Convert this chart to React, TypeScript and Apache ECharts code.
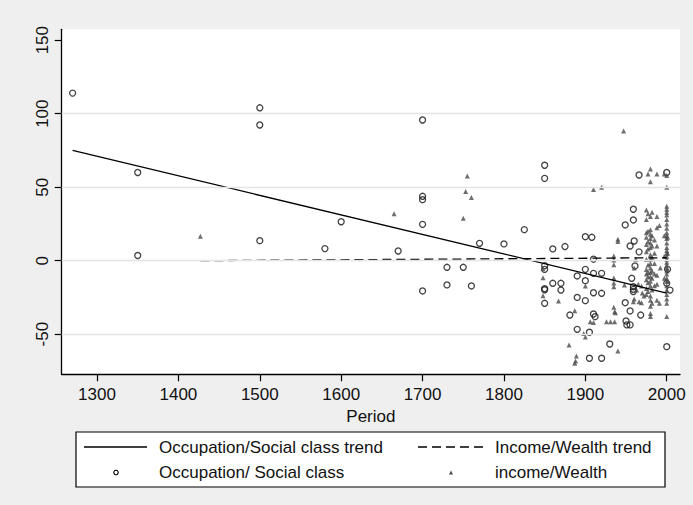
import React, { useEffect, useRef } from "react";
import * as echarts from "echarts";

// ---- data ----
const occupationPoints: [number, number][] = [
  [1270, 114], [1350, 60], [1350, 3.5], [1500, 104], [1500, 92.3], [1500, 13.6],
  [1580, 8.2], [1600, 26.5], [1670, 6.6], [1700, 95.7], [1700, 43.8], [1700, 41.5],
  [1700, 24.7], [1700, -20.6], [1730, -4.5], [1730, -16.5], [1750, -4.5], [1760, -17.2],
  [1770, 11.8], [1800, 11.4], [1825, 21.1], [1850, 64.9], [1850, 56], [1850, -3.4],
  [1850, -5.9], [1850, -19], [1850, -19.8], [1850, -29], [1860, 8], [1860, -15.4],
  [1870, -15.4], [1870, -20], [1875, 9.6], [1881, -37], [1890, -10.4], [1890, -25],
  [1890, -46.7], [1900, 16.3], [1900, -5.9], [1900, -13.6], [1900, -27.2], [1905, -48.7],
  [1905, -66.4], [1908, 15.9], [1910, 1], [1910, -8.6], [1910, -21.8], [1910, -36.3],
  [1912, -38.1], [1920, -8.6], [1920, -22.2], [1920, -66.4], [1930, -56.7], [1949, 24.3],
  [1949, -28.6], [1950, -41], [1951, -43.7], [1955, -43.7], [1955, 10], [1955, -34.2],
  [1957, -12], [1959, 35], [1959, 27.7], [1960, 13.4], [1961, -3.6], [1959, -17.7],
  [1959, -19.5], [1959, -21], [1966, 58.3], [1966, 6], [1968, -37], [2000, 60],
  [2001, -5.9], [2000, -15.4], [2004, -20], [2000, -58.5],
];

const incomePoints: [number, number][] = [
  [1427, 16.6], [1665, 32], [1750, 28.8], [1753, 47], [1755, 57.6], [1760, 43],
  [1848, -5.5], [1848, -11.6], [1848, -23.8], [1867, -27.4], [1880, -57.3], [1887, -34],
  [1889, -64.8], [1888, -68.2], [1887, -69.8], [1898, -49.6], [1900, -17.2], [1900, -52],
  [1906, -41.6], [1910, -42], [1910, 48.4], [1920, 50],
  [1926, -41.5], [1931, -41.5], [1936, -41.5], [1935, 3.2], [1935, 0.5], [1935, -2.7],
  [1935, -11.8], [1935, -15.2], [1935, -17.7], [1935, -31.7], [1936, -34.7], [1937, -35.4],
  [1940, 14.6], [1940, 13], [1940, -61.4], [1947, 88.2], [1948, -16.5], [1959, -27.9],
  [1969, -17.2], [1969, -28.6], [1960, -5], [1960, -26], [1962, 1], [1965, -16],
  [1966, -28], [1970, -22], [1972, -24], [1963, -20],
  [1975, 34.5], [1975, 28], [1975, 19], [1975, 16], [1975, 11], [1975, 6], [1975, 1],
  [1975, -6], [1975, -9], [1975, -13], [1975, -19], [1975, -23],
  [1977, 59], [1977, 32], [1977, 20], [1977, 13], [1977, 8], [1977, -3], [1977, -8],
  [1977, -11], [1977, -15], [1977, -21],
  [1980, 62.4], [1980, 53.7], [1980, 30], [1980, 21], [1980, 18], [1980, 15], [1980, 12],
  [1980, 9], [1980, 4], [1980, 1], [1980, -2], [1980, -5], [1980, -8], [1980, -11],
  [1980, -14], [1980, -17], [1980, -24], [1980, -27], [1980, -31], [1980, -36], [1980, -38],
  [1982, 33], [1982, 17], [1982, 10], [1982, 2], [1982, -7], [1982, -12], [1982, -20], [1982, -29],
  [1985, 14], [1985, 5], [1985, -2], [1985, -9], [1985, -17],
  [1988, 58.9], [1988, 30], [1988, 22.4], [1988, 10], [1988, -10], [1988, -16], [1988, -27],
  [1991, 24], [1991, -29], [1992, -5],
  [1997, 59], [1997, 17], [1997, 3], [1997, -12],
  [2000, 50], [2000, 58], [2000, 37], [2000, 35], [2000, 33], [2000, 31], [2000, 28],
  [2000, 25], [2000, 22], [2000, 19], [2000, 17], [2000, 15], [2000, 12], [2000, 9],
  [2000, 7], [2000, 5], [2000, 3], [2000, 1], [2000, -1], [2000, -3], [2000, -5],
  [2000, -7], [2000, -9], [2000, -12], [2000, -14], [2000, -17], [2000, -20], [2000, -23],
  [2000, -26], [2000, -29], [2000, -38],
  [2001, 16], [2001, 5], [2001, -6], [2001, -14],
];

const occupationTrend: [number, number][] = [[1270, 75], [2000, -22]];
const incomeTrend: [number, number][] = [[1427, 0], [2000, 2]];

const xTicks = [1300, 1400, 1500, 1600, 1700, 1800, 1900, 2000];
const yTicks = [-50, 0, 50, 100, 150];
const gridValues = [-50, 0, 50, 100];

const legendNames = [
  "Occupation/Social class trend",
  "Income/Wealth trend",
  "Occupation/ Social class",
  "income/Wealth",
];

const FONT = "'Liberation Sans', Arial, Helvetica, sans-serif";

export default function App() {
  const ref = useRef<HTMLDivElement>(null);

  useEffect(() => {
    document.body.style.margin = "0";
    if (!ref.current) return;
    const chart = echarts.init(ref.current, null, { renderer: "svg" });

    const legendText = (x: number, y: number, text: string) => ({
      type: "text",
      x,
      y,
      style: {
        text,
        fontFamily: FONT,
        fontSize: 17,
        fill: "#111",
        verticalAlign: "middle",
        align: "left",
      },
    });

    chart.setOption({
      animation: false,
      backgroundColor: "#efefef",
      textStyle: { fontFamily: FONT },
      grid: {
        left: 61.7,
        right: 13,
        top: 29.3,
        bottom: 130.7,
        show: true,
        backgroundColor: "#ffffff",
        borderWidth: 0,
        containLabel: false,
      },
      xAxis: {
        type: "value",
        min: 1256.6,
        max: 2016.3,
        name: "Period",
        nameLocation: "middle",
        nameGap: 29,
        nameTextStyle: { fontSize: 17, color: "#111", fontFamily: FONT },
        axisLine: { show: true, onZero: false, lineStyle: { color: "#000", width: 1.3 } },
        axisTick: { show: true, length: 7, customValues: xTicks, lineStyle: { color: "#000", width: 1.2 } },
        axisLabel: {
          customValues: xTicks,
          formatter: (v: number) => String(v),
          fontSize: 17,
          color: "#111",
          margin: 12,
          fontFamily: FONT,
        },
        splitLine: { show: false },
      },
      yAxis: {
        type: "value",
        min: -77.3,
        max: 157.4,
        axisLine: { show: true, onZero: false, lineStyle: { color: "#000", width: 1.3 } },
        axisTick: { show: true, length: 7, customValues: yTicks, lineStyle: { color: "#000", width: 1.2 } },
        axisLabel: {
          customValues: yTicks,
          formatter: (v: number) => String(v),
          rotate: 90,
          fontSize: 17,
          color: "#111",
          margin: 11,
          fontFamily: FONT,
        },
        splitLine: { show: false },
      },
      legend: { show: false },
      series: [
        {
          type: "scatter",
          name: "grid",
          data: [],
          silent: true,
          z: 1,
          markLine: {
            silent: true,
            symbol: "none",
            label: { show: false },
            lineStyle: { color: "#e4e4e4", width: 1.3, type: "solid" },
            data: gridValues.map((v) => ({ yAxis: v })),
          },
        },
        {
          type: "scatter",
          name: legendNames[2],
          data: occupationPoints,
          symbol: "circle",
          symbolSize: 6,
          itemStyle: { color: "rgba(0,0,0,0)", borderColor: "#111", borderWidth: 1.3 },
          z: 3,
        },
        {
          type: "scatter",
          name: legendNames[3],
          data: incomePoints,
          symbol: "triangle",
          symbolSize: 5,
          itemStyle: { color: "#4a4a4a" },
          z: 3,
        },
        {
          type: "line",
          name: legendNames[0],
          data: occupationTrend,
          showSymbol: false,
          symbol: "none",
          lineStyle: { color: "#000", width: 1.3 },
          z: 4,
        },
        {
          type: "line",
          name: legendNames[1],
          data: incomeTrend,
          showSymbol: false,
          symbol: "none",
          lineStyle: { color: "#000", width: 1.3, type: [9, 5] },
          z: 4,
        },
      ],
      graphic: [
        {
          type: "rect",
          shape: { x: 76, y: 432, width: 589, height: 55 },
          style: { fill: "#fff", stroke: "#000", lineWidth: 1.2 },
        },
        {
          type: "line",
          shape: { x1: 84, y1: 447, x2: 147, y2: 447 },
          style: { stroke: "#000", lineWidth: 1.3 },
        },
        legendText(159, 447, legendNames[0]),
        {
          type: "line",
          shape: { x1: 418, y1: 447, x2: 483, y2: 447 },
          style: { stroke: "#000", lineWidth: 1.3, lineDash: [9, 5] },
        },
        legendText(495, 447, legendNames[1]),
        {
          type: "circle",
          shape: { cx: 116, cy: 472.5, r: 2.2 },
          style: { fill: "none", stroke: "#000", lineWidth: 1.1 },
        },
        legendText(159, 472.5, legendNames[2]),
        {
          type: "polygon",
          shape: { points: [[449, 474.5], [453, 474.5], [451, 470.5]] },
          style: { fill: "#4a4a4a" },
        },
        legendText(495, 472.5, legendNames[3]),
      ],
    });

    return () => chart.dispose();
  }, []);

  return <div ref={ref} style={{ width: 693, height: 505 }} />;
}
